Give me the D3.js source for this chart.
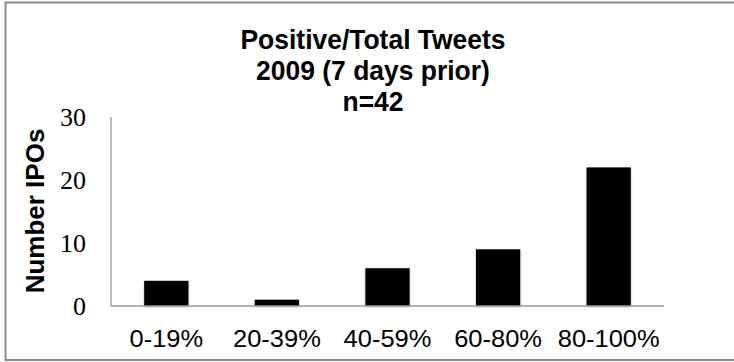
<!DOCTYPE html>
<html>
<head>
<meta charset="utf-8">
<script src="https://cdn.jsdelivr.net/npm/d3@7"></script>
<style>
html,body{margin:0;padding:0;background:#fff;}
svg{display:block;}
</style>
</head>
<body>
<svg id="chart" width="734" height="362"></svg>
<script>
const categories = ["0-19%", "20-39%", "40-59%", "60-80%", "80-100%"];
const values = [4, 1, 6, 9, 22];
const yTicks = [0, 10, 20, 30];
const titleLines = ["Positive/Total Tweets", "2009 (7 days prior)", "n=42"];
const yLabel = "Number IPOs";

const svg = d3.select("#chart");

// outer border
svg.append("rect")
  .attr("x", 5.5).attr("y", 2.5)
  .attr("width", 740).attr("height", 357.5)
  .attr("fill", "none").attr("stroke", "#8c8c8c").attr("stroke-width", 2);

const defs = svg.append("defs");
const f = defs.append("filter").attr("id", "shadow")
  .attr("x", "-20%").attr("y", "-20%").attr("width", "140%").attr("height", "140%");
f.append("feDropShadow").attr("dx", 0).attr("dy", 1).attr("stdDeviation", 1.3)
  .attr("flood-color", "#000").attr("flood-opacity", 0.3);

const plot = {left: 111, right: 664, top: 117, bottom: 306};

const x = d3.scaleBand().domain(categories)
  .range([plot.left, plot.right])
  .paddingInner(0.6).paddingOuter(0.3);
const y = d3.scaleLinear().domain([0, 30]).range([plot.bottom, plot.top]);

// bars
svg.append("g").selectAll("rect").data(values).join("rect")
  .attr("x", (d, i) => x(categories[i]))
  .attr("y", d => y(d))
  .attr("width", x.bandwidth())
  .attr("height", d => y(0) - y(d))
  .attr("fill", "#000")
  .attr("filter", "url(#shadow)");

// axis lines
const axisColor = "#9a9a9a";
svg.append("line")
  .attr("x1", plot.left).attr("x2", plot.left)
  .attr("y1", y(30)).attr("y2", y(0))
  .attr("stroke", axisColor).attr("stroke-width", 1.3);
svg.append("line")
  .attr("x1", plot.left).attr("x2", plot.right)
  .attr("y1", y(0)).attr("y2", y(0))
  .attr("stroke", axisColor).attr("stroke-width", 1.3);

// y tick labels (serif)
svg.append("g").selectAll("text").data(yTicks).join("text")
  .attr("transform", d => `translate(86,${y(d) + 9})`)
  .attr("text-anchor", "end")
  .attr("font-family", "'Liberation Serif','DejaVu Serif',serif")
  .attr("font-size", 26)
  .attr("fill", "#000")
  .text(d => d);

// x labels
svg.append("g").selectAll("text").data(categories).join("text")
  .attr("transform", d => `translate(${x(d) + x.bandwidth() / 2},346.7) scale(1.04,1)`)
  .attr("text-anchor", "middle")
  .attr("font-family", "'Liberation Sans',Arial,sans-serif")
  .attr("font-size", 24.5)
  .attr("fill", "#000")
  .text(d => d);

// title
const titleY = [49.3, 80, 110.7];
svg.append("g").selectAll("text").data(titleLines).join("text")
  .attr("transform", (d, i) => `translate(373,${titleY[i]}) scale(0.945,1)`)
  .attr("text-anchor", "middle")
  .attr("font-family", "'Liberation Sans',Arial,sans-serif")
  .attr("font-weight", "bold")
  .attr("font-size", 28)
  .attr("fill", "#000")
  .text(d => d);

// y axis label
svg.append("text")
  .attr("transform", "translate(44,211) rotate(-90)")
  .attr("text-anchor", "middle")
  .attr("font-family", "'Liberation Sans',Arial,sans-serif")
  .attr("font-weight", "bold")
  .attr("font-size", 26)
  .attr("fill", "#000")
  .text(yLabel);
</script>
</body>
</html>
